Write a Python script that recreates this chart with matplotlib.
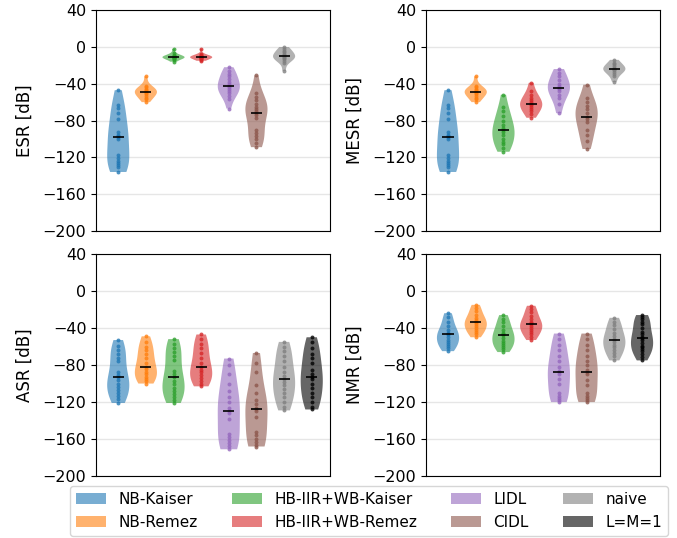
import numpy as np
import matplotlib
matplotlib.use("Agg")
import matplotlib.pyplot as plt
from matplotlib.patches import Patch

methods = ["NB-Kaiser", "NB-Remez", "HB-IIR+WB-Kaiser", "HB-IIR+WB-Remez",
           "LIDL", "CIDL", "naive", "L=M=1"]
colors = ["tab:blue", "tab:orange", "tab:green", "tab:red",
          "tab:purple", "tab:brown", "tab:gray", "black"]

# per-method results in dB (ESR/MESR have no L=M=1 entry)
nb_kaiser_sr = [-47, -63, -66, -72, -78, -92, -96, -97, -98, -100, -118, -121, -124, -126, -128, -131, -136]
nb_remez_sr = [-32, -42, -44, -46, -47, -48, -49, -50, -51, -53, -55, -57, -60]

esr = [
    nb_kaiser_sr,
    nb_remez_sr,
    [-2, -7, -9, -10, -10, -11, -11, -11, -12, -12, -13, -14, -16],
    [-2, -8, -9, -10, -10, -11, -11, -11, -12, -12, -13, -14, -15],
    [-22, -26, -29, -32, -35, -38, -40, -42, -44, -46, -48, -50, -53, -57, -67],
    [-31, -50, -54, -58, -62, -65, -68, -70, -72, -74, -77, -90, -94, -97, -100, -104, -109],
    [0, -2, -4, -6, -8, -9, -10, -11, -12, -13, -15, -17, -26],
]

mesr = [
    nb_kaiser_sr,
    nb_remez_sr,
    [-52, -65, -70, -75, -80, -85, -88, -90, -92, -96, -100, -103, -106, -110, -114],
    [-39, -48, -52, -55, -58, -60, -62, -63, -65, -67, -70, -73, -77],
    [-24, -28, -32, -36, -40, -42, -45, -46, -48, -52, -56, -62, -72],
    [-41, -56, -60, -64, -68, -72, -76, -78, -82, -90, -96, -102, -111],
    [-14, -17, -19, -21, -23, -24, -24, -25, -27, -29, -32, -38],
]

asr = [
    [-53, -59, -64, -68, -72, -76, -88, -91, -93, -96, -100, -104, -107, -110, -113, -117, -121],
    [-49, -55, -60, -64, -68, -72, -78, -82, -84, -87, -90, -93, -95, -97, -100],
    [-52, -57, -62, -66, -70, -75, -86, -90, -93, -97, -101, -105, -108, -111, -114, -118, -121],
    [-47, -52, -57, -62, -67, -72, -78, -82, -85, -88, -91, -94, -97, -100, -103],
    [-73, -80, -90, -100, -108, -115, -120, -126, -130, -132, -138, -155, -158, -161, -164, -167, -171],
    [-67, -78, -88, -102, -110, -118, -122, -126, -128, -130, -136, -152, -156, -160, -163, -166, -168],
    [-55, -60, -65, -70, -76, -82, -88, -92, -95, -98, -102, -106, -110, -115, -120, -125, -129],
    [-50, -55, -62, -68, -72, -78, -85, -90, -93, -95, -100, -105, -110, -115, -120, -125, -128],
]

nmr = [
    [-24, -28, -33, -38, -42, -45, -46, -47, -50, -53, -55, -57, -59, -62, -65],
    [-15, -18, -22, -26, -29, -31, -33, -34, -36, -38, -40, -42, -44, -47, -50],
    [-26, -30, -34, -38, -42, -45, -47, -48, -51, -54, -56, -58, -60, -63, -66],
    [-16, -19, -23, -27, -30, -33, -35, -36, -38, -40, -42, -44, -46, -50, -53],
    [-46, -52, -58, -64, -70, -76, -82, -86, -88, -90, -95, -100, -110, -113, -116, -118, -120],
    [-46, -52, -58, -64, -70, -76, -80, -85, -87, -90, -96, -102, -110, -113, -116, -118, -120],
    [-29, -33, -37, -41, -45, -49, -52, -53, -55, -58, -61, -64, -67, -70, -75],
    [-26, -28, -30, -33, -36, -40, -44, -47, -50, -51, -53, -56, -59, -61, -63, -65, -68, -71, -75],
]

panels = [(esr, "ESR [dB]"), (mesr, "MESR [dB]"), (asr, "ASR [dB]"), (nmr, "NMR [dB]")]
yticks = [40, 0, -40, -80, -120, -160, -200]

fig = plt.figure(figsize=(6.77, 5.38), dpi=100)
boxes = [[0.142, 0.571, 0.345, 0.410], [0.629, 0.571, 0.346, 0.410],
         [0.142, 0.115, 0.345, 0.413], [0.629, 0.115, 0.346, 0.413]]

for (data, label), box in zip(panels, boxes):
    ax = fig.add_axes(box)
    pos = np.arange(1, len(data) + 1)
    parts = ax.violinplot(data, positions=pos, widths=0.8,
                          showextrema=False, showmedians=False)
    for body, c in zip(parts["bodies"], colors):
        body.set_facecolor(c)
        body.set_edgecolor("none")
        body.set_alpha(0.6)
    for p, vals, c in zip(pos, data, colors):
        ax.scatter(np.full(len(vals), p), vals, s=8, color=c, alpha=0.8,
                   linewidths=0, zorder=3)
        ax.hlines(np.median(vals), p - 0.2, p + 0.2, color="black", lw=1.2, zorder=4)
    ax.set_ylim(-200, 40)
    ax.set_xlim(0.2, 8.65)
    ax.set_yticks(yticks)
    ax.set_xticks([])
    ax.yaxis.grid(True, color="#e6e6e6", lw=1)
    ax.set_axisbelow(True)
    ax.tick_params(axis="y", labelsize=11.5)
    ax.set_ylabel(label, fontsize=12, labelpad=6)

handles = [Patch(facecolor=c, alpha=0.6, label=m) for m, c in zip(methods, colors)]
fig.legend(handles=handles, loc="lower center", ncol=4, fontsize=11,
           bbox_to_anchor=(0.545, -0.01), handlelength=2.0, columnspacing=2.2)

fig.savefig("out.png", dpi=100)
